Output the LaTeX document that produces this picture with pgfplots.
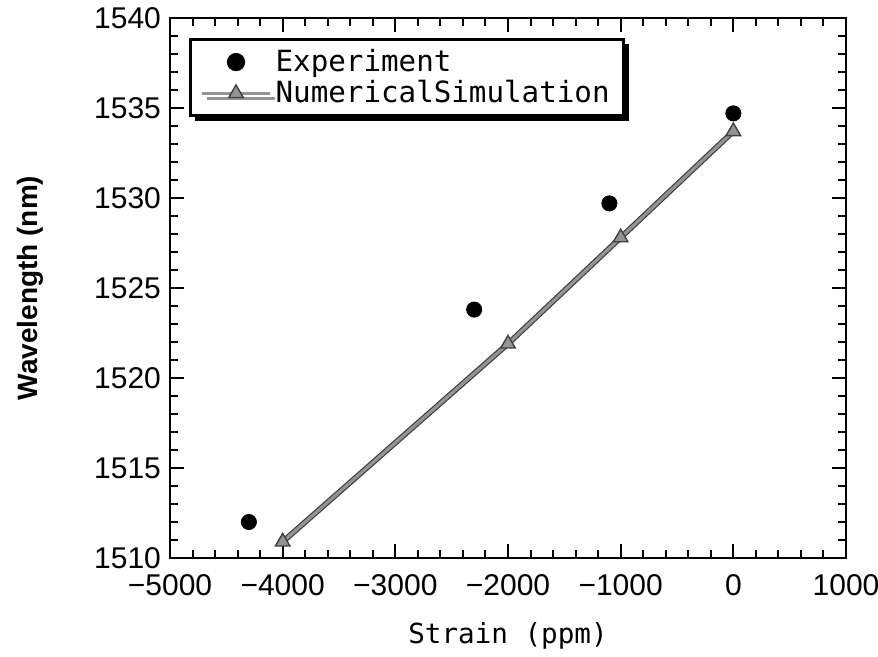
\documentclass[border=0pt]{standalone}
\usepackage{pgfplots}
\pgfplotsset{compat=1.18}
\usepackage{fontspec}
\setmainfont{Liberation Sans}
\newfontfamily\monofont{DejaVu Sans Mono}
\usetikzlibrary{calc,shadows}

\begin{document}
\begin{tikzpicture}
\begin{axis}[
  name=ax,
  scale only axis,
  width=338pt, height=270pt,
  xmin=-5000, xmax=1000, ymin=1510, ymax=1540,
  xtick={-5000,-4000,-3000,-2000,-1000,0,1000},
  xticklabels={−5000,−4000,−3000,−2000,−1000,0,1000},
  ytick={1510,1515,1520,1525,1530,1535,1540},
  yticklabels={1510,1515,1520,1525,1530,1535,1540},
  minor x tick num=4, minor y tick num=4,
  tick align=inside,
  major tick length=7pt, minor tick length=4pt,
  every tick/.style={black, line width=1pt},
  axis line style={line width=1.3pt},
  ticklabel style={font=\fontsize{15}{18}\selectfont},
  xticklabel style={yshift=-4.5pt},
  yticklabel style={xshift=-1pt},
  xlabel={\monofont\fontsize{13.8}{16}\selectfont Strain (ppm)},
  ylabel={\bfseries\fontsize{14}{17}\selectfont Wavelength (nm)},
  xlabel style={at={(rel axis cs:0.5,-0.1574)}, anchor=base},
  ylabel style={at={(rel axis cs:-0.1967,0.5)}, anchor=base, rotate=0},
  legend image code/.code={\draw[mark repeat=2,mark phase=2,#1] plot coordinates {(0pt,0pt) (17pt,0pt) (34pt,0pt)};},
  legend style={at={(rel axis cs:0.028,0.963)}, anchor=north west,
    draw=black, line width=1.5pt, fill=white,
    drop shadow={shadow xshift=2.5pt, shadow yshift=-2.5pt, opacity=1, fill=black},
    font=\monofont\fontsize{14.6}{16}\selectfont,
    inner xsep=5pt, inner ysep=3pt, row sep=-1pt,
    cells={anchor=west}},
]
\addplot[only marks, mark=*, mark size=3.8pt, black] coordinates {
  (-4300,1512.0) (-2300,1523.8) (-1100,1529.7) (0,1534.7)
};
\addlegendentry{Experiment}
\addplot[black!75, line width=2.8pt, forget plot] coordinates {
  (-4000,1510.9) (-2000,1521.9) (-1000,1527.8) (0,1533.7)
};
\addplot[gray!85, line width=1.6pt, mark=triangle*, mark size=4.2pt,
  mark options={fill=gray!85, draw=black!75, line width=0.7pt}] coordinates {
  (-4000,1510.9) (-2000,1521.9) (-1000,1527.8) (0,1533.7)
};
\addlegendentry{NumericalSimulation}
\end{axis}
\pgfresetboundingbox
\path ($(ax.south west)+(-85pt,-49pt)$) rectangle ($(ax.north east)+(16pt,9pt)$);
\end{tikzpicture}
\end{document}
